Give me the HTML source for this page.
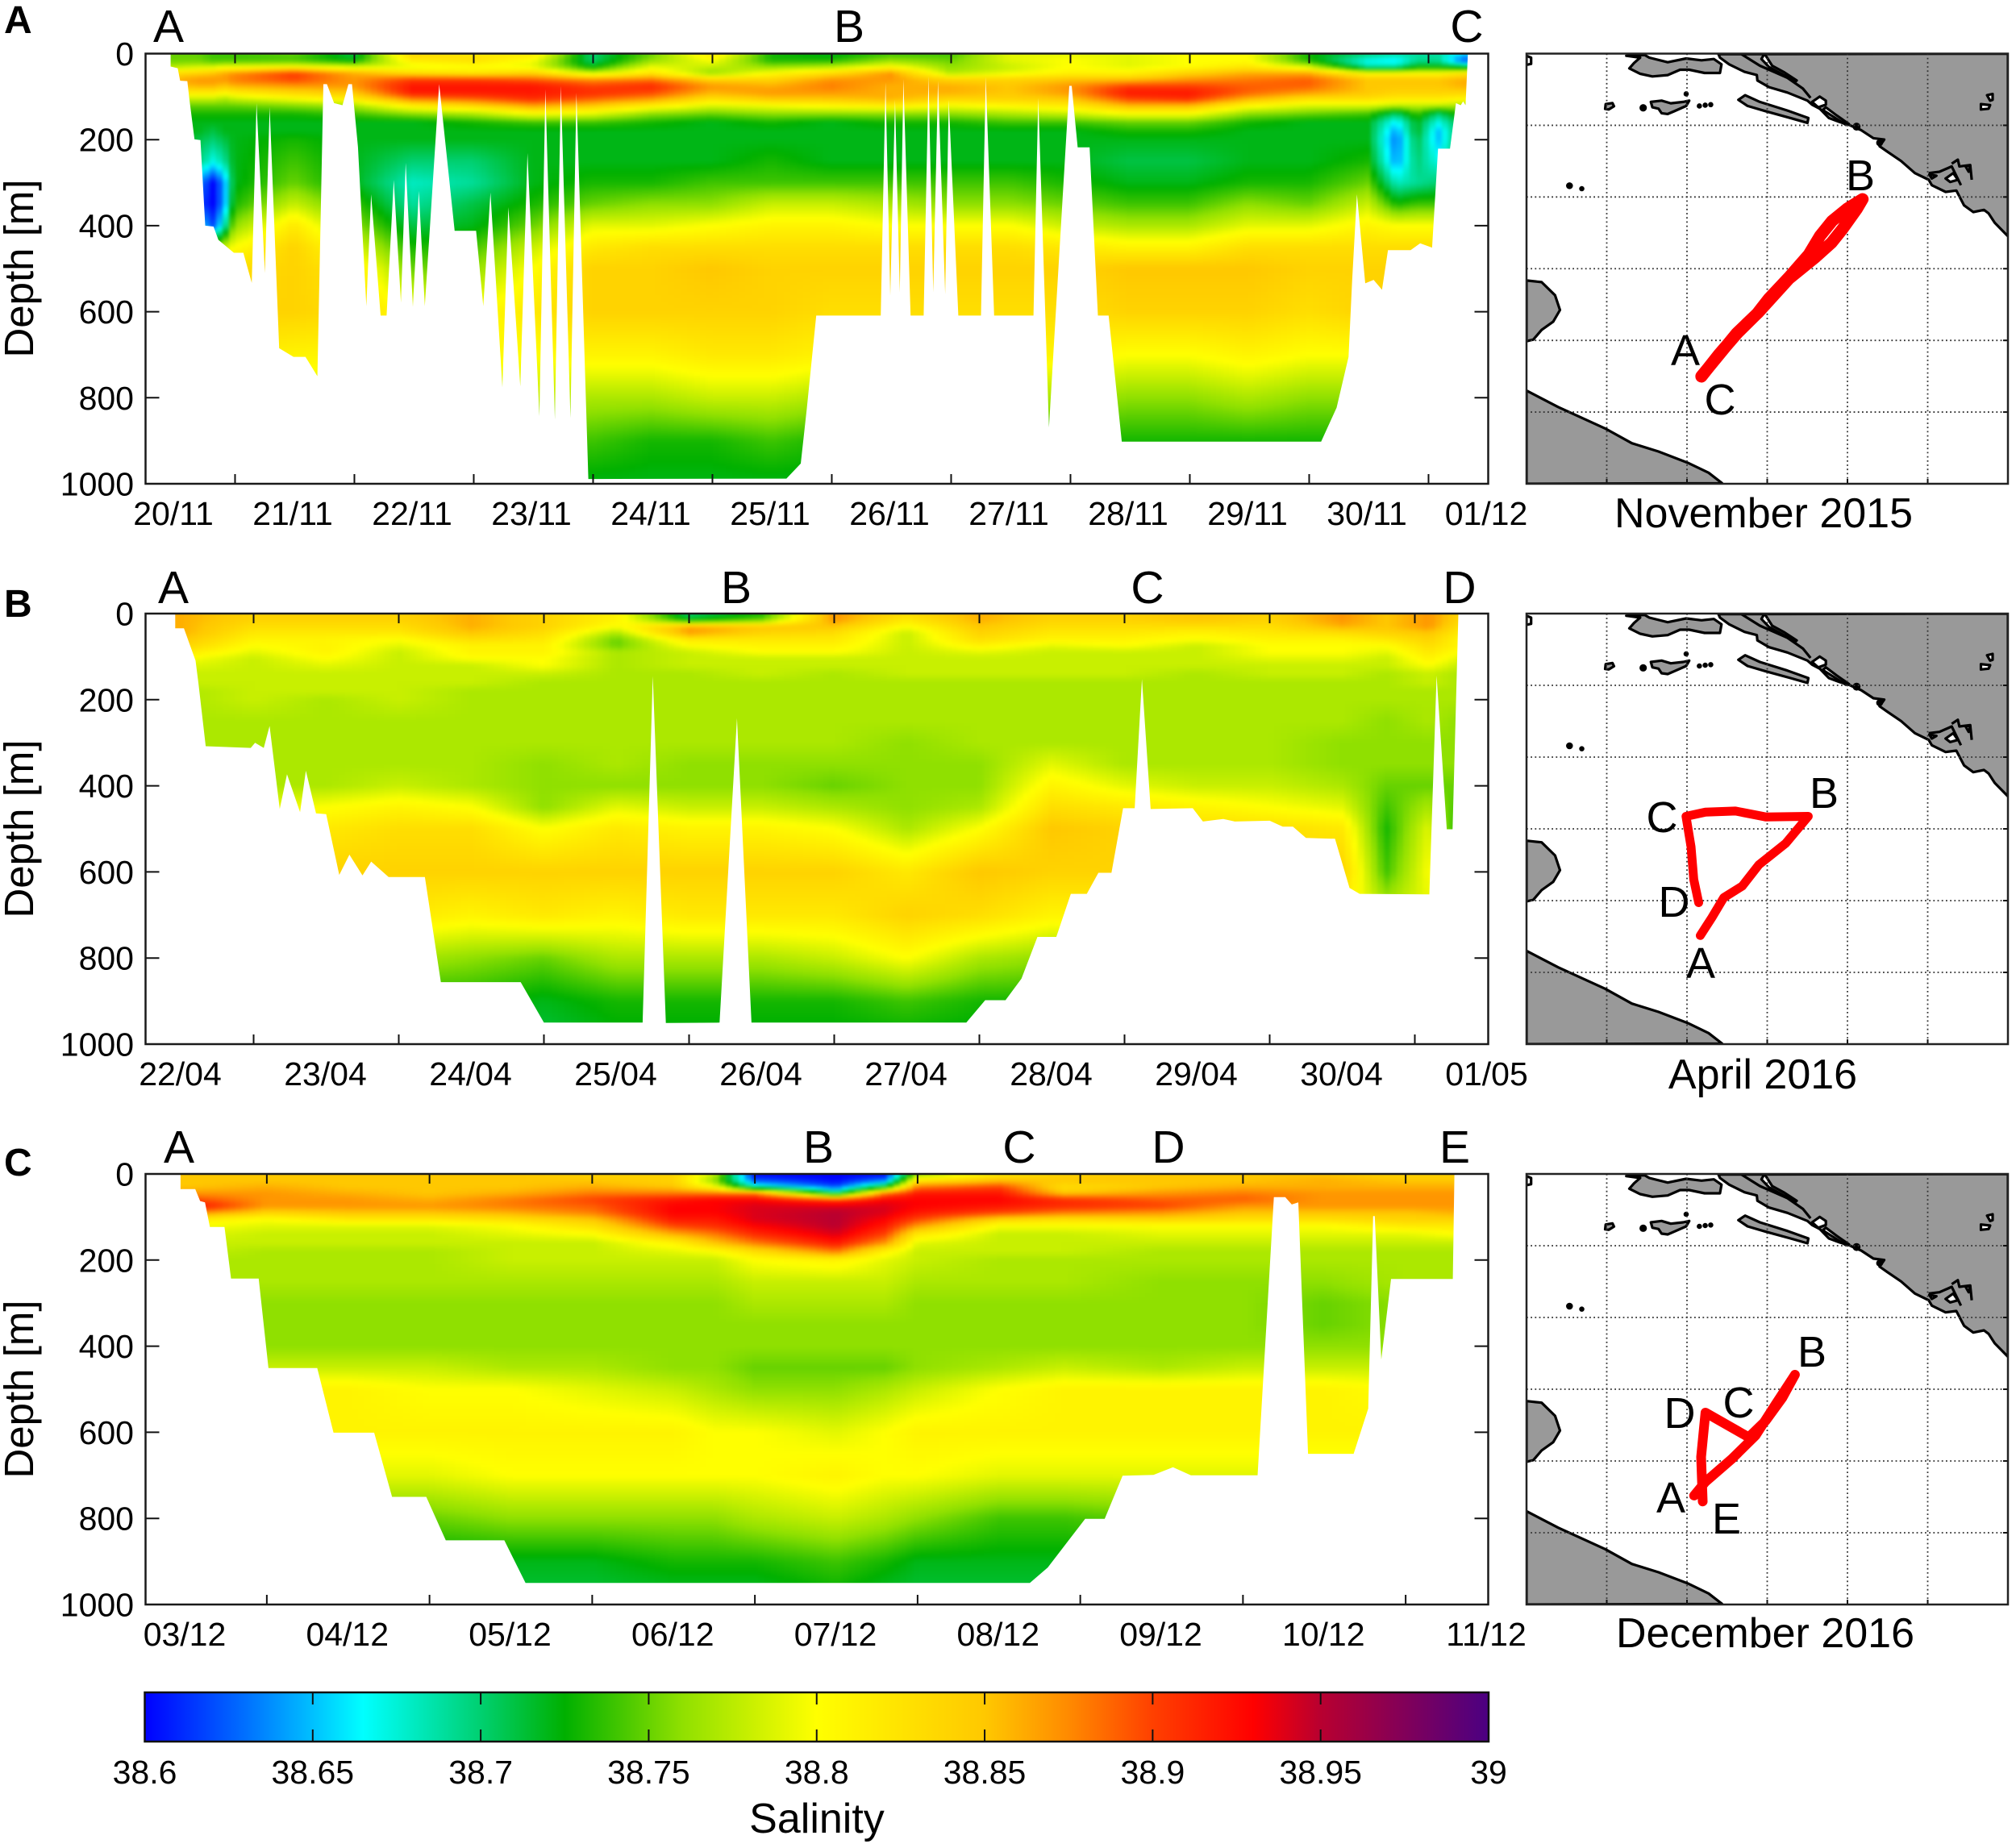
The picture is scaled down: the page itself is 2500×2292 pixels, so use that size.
<!DOCTYPE html>
<html lang="en">
<head>
<meta charset="utf-8">
<title>Salinity sections</title>
<style>
html,body{margin:0;padding:0;background:#fff;}
svg{display:block;}
text{font-family:"Liberation Sans",Arial,sans-serif;fill:#000;}
.tick{font-size:41px;}
.site{font-size:57px;text-anchor:middle;}
.msite{font-size:54px;text-anchor:middle;}
.tag{font-size:48px;font-weight:bold;}
.ylab{font-size:51px;text-anchor:middle;}
.mtitle{font-size:52px;text-anchor:middle;}
</style>
</head>
<body>
<svg id="fig" xmlns="http://www.w3.org/2000/svg" width="2500" height="2292" viewBox="0 0 2500 2292">
  <rect x="0" y="0" width="2500" height="2292" fill="#fff"/>
  <defs>
    <filter id="soft" color-interpolation-filters="sRGB"><feGaussianBlur stdDeviation="2"/></filter>
    <linearGradient id="cbar-gradient" x1="0" x2="1" y1="0" y2="0"></linearGradient>
  </defs>

  <text class="tag" x="5" y="41">A</text>
  <text class="tag" x="5" y="765">B</text>
  <text class="tag" x="5" y="1458">C</text>

  <text class="ylab" transform="translate(41 333) rotate(-90)">Depth [m]</text>
  <text class="ylab" transform="translate(41 1028) rotate(-90)">Depth [m]</text>
  <text class="ylab" transform="translate(41 1723) rotate(-90)">Depth [m]</text>

  <g id="plot-a"></g>
  <g id="plot-b"></g>
  <g id="plot-c"></g>

  <text class="site" x="209" y="52">A</text>
  <text class="site" x="1053" y="52">B</text>
  <text class="site" x="1819" y="52">C</text>

  <text class="site" x="215" y="748">A</text>
  <text class="site" x="913" y="748">B</text>
  <text class="site" x="1423" y="748">C</text>
  <text class="site" x="1810" y="748">D</text>

  <text class="site" x="222" y="1442">A</text>
  <text class="site" x="1015" y="1442">B</text>
  <text class="site" x="1264" y="1442">C</text>
  <text class="site" x="1449" y="1442">D</text>
  <text class="site" x="1804" y="1442">E</text>

  <g id="map-a"></g>
  <g id="map-b"></g>
  <g id="map-c"></g>

  <text class="msite" x="2090" y="453">A</text>
  <text class="msite" x="2307" y="236">B</text>
  <text class="msite" x="2133" y="514">C</text>

  <text class="msite" x="2109" y="1213">A</text>
  <text class="msite" x="2262" y="1002">B</text>
  <text class="msite" x="2061" y="1032">C</text>
  <text class="msite" x="2076" y="1137">D</text>

  <text class="msite" x="2072" y="1876">A</text>
  <text class="msite" x="2247" y="1695">B</text>
  <text class="msite" x="2156" y="1758">C</text>
  <text class="msite" x="2083" y="1771">D</text>
  <text class="msite" x="2141" y="1902">E</text>

  <text class="mtitle" x="2187" y="654">November 2015</text>
  <text class="mtitle" x="2186" y="1350">April 2016</text>
  <text class="mtitle" x="2189" y="2043">December 2016</text>

  <g id="colorbar"></g>
  <text class="ylab" x="1013" y="2273" style="font-size:52px">Salinity</text>
</svg>

<script>
// ---------- shared axes data ----------
const depthRows = [0,15,30,45,60,75,90,105,120,140,160,180,200,250,300,350,400,450,500,600,700,800,900,1000];
const depthTicks = [0,200,400,600,800,1000];
const salinityBase = 38; // grids below hold (salinity - 38) * 100

// ---------- panel A: November 2015 ----------
const dateLabelsA = ['20/11','21/11','22/11','23/11','24/11','25/11','26/11','27/11','28/11','29/11','30/11','01/12'];
const timesA = [0,.2,.33,.42,.5,1,1.5,2,2.5,3,3.5,4,4.5,5,5.5,6,6.5,7,7.5,8,8.5,9,9.5,10,10.24,10.41,10.59,10.8];
const salinityA = [
[75,75,77,83,86,85,82,78,75,73,72,72,72,72,73,74,76,79,82,84,82,79,75,72],
[75,75,78,84,87,86,82,78,75,73,72,72,71,70,64,62,66,76,81,84,82,79,75,72],
[74,74,78,85,87,86,82,78,75,73,72,71,70,67,60,60,62,76,83,84,82,79,75,72],
[74,74,79,86,87,85,81,77,75,73,72,72,71,69,64,64,68,78,83,84,82,79,75,72],
[74,74,79,87,88,86,82,78,75,73,72,72,72,72,72,73,76,80,83,84,82,79,75,72],
[75,74,80,90,90,87,84,80,76,73,72,72,73,74,75,78,82,84,84,84,81,78,74,72],
[71,72,78,86,87,87,85,82,77,74,72,72,72,72,72,74,76,79,82,83,81,78,74,72],
[84,82,79,83,90,92,92,88,82,76,72,72,72,70,68,69,71,73,75,80,81,78,74,72],
[82,83,80,82,90,92,92,89,84,77,73,72,72,70,69,71,72,74,76,80,81,78,74,72],
[82,80,79,84,89,92,92,91,87,80,74,72,72,72,72,73,75,78,80,82,80,78,74,72],
[70,70,72,78,87,90,91,89,85,79,74,72,72,72,73,75,79,82,84,84,81,77,74,72],
[75,76,79,82,88,91,90,87,82,76,73,72,72,72,73,76,79,83,84,84,81,77,73,72],
[82,80,78,76,84,87,86,83,79,75,72,72,72,72,74,76,80,83,85,84,82,78,73,72],
[73,73,76,80,84,86,87,85,80,76,73,72,72,73,74,78,81,83,84,84,82,78,74,72],
[72,73,77,83,87,88,87,85,81,76,72,72,72,72,74,78,81,83,84,83,81,77,73,72],
[74,76,80,87,87,86,86,86,82,76,73,72,72,72,74,77,80,83,84,83,81,77,73,72],
[74,75,76,77,84,86,86,84,80,76,73,72,72,72,74,76,80,83,84,83,81,77,73,72],
[79,79,78,79,84,85,85,84,81,77,74,72,72,72,74,76,80,83,84,83,81,77,73,72],
[79,80,80,81,85,87,87,85,82,78,74,72,72,72,73,75,78,82,84,83,81,77,73,72],
[79,79,79,81,85,90,92,90,86,80,75,73,72,71,72,74,77,81,85,84,80,76,73,72],
[80,80,80,84,87,90,92,91,86,80,75,73,72,71,72,74,77,81,85,84,80,76,73,72],
[80,80,82,86,88,89,89,86,81,76,73,72,72,72,73,76,79,83,85,84,81,77,73,72],
[73,73,78,86,89,89,87,83,79,75,72,72,72,72,73,75,79,83,84,83,80,76,73,72],
[70,67,68,80,85,85,85,83,79,74,72,72,72,73,75,78,81,83,84,84,80,76,73,72],
[69,66,68,80,85,85,84,82,78,70,66,64,63,64,68,73,80,83,84,84,80,76,73,72],
[69,69,72,80,85,85,84,82,78,74,72,72,71,70,69,74,80,83,84,84,80,76,73,72],
[69,69,72,80,85,85,84,82,78,70,67,65,65,67,70,74,80,83,84,84,80,76,73,72],
[66,62,70,82,86,86,84,81,77,74,72,72,72,72,73,76,80,83,84,84,80,76,73,72]
];
const edgeDaysA = [-.03,-.03,.03,.05,.11,.13,.17,.22,.26,.33,.37,.5,.58,.65,.69,.76,.8,.88,1,1.1,1.2,1.25,1.28,1.34,1.41,1.46,1.49,1.54,1.61,1.65,1.73,1.78,1.84,1.9,1.94,2,2.05,2.1,2.22,2.35,2.53,2.59,2.65,2.75,2.8,2.9,2.96,3.06,3.11,3.19,3.24,3.32,3.37,3.47,5.13,5.25,5.3,5.38,5.92,5.96,6,6.04,6.08,6.11,6.17,6.28,6.32,6.36,6.4,6.46,6.49,6.57,6.76,6.8,6.87,7.2,7.24,7.33,7.5,7.52,7.57,7.67,7.74,7.83,7.94,9.61,9.74,9.84,9.87,9.91,9.98,10.05,10.12,10.17,10.36,10.44,10.54,10.59,10.69,10.74,10.78,10.8,10.82,10.84];
const edgeDepthsA = [0,30,34,63,64,111,199,201,400,402,433,463,463,533,115,510,124,685,705,705,750,71,71,115,120,71,71,217,587,327,609,609,294,579,254,589,319,587,71,412,412,587,323,776,357,774,231,843,83,851,75,847,91,989,988,953,827,609,609,67,563,107,555,59,609,609,53,555,63,559,107,609,609,54,609,609,103,869,75,75,218,218,609,609,902,902,823,705,526,327,534,526,549,457,457,441,451,221,221,115,120,111,120,0];

// ---------- panel B: April 2016 ----------
const dateLabelsB = ['22/04','23/04','24/04','25/04','26/04','27/04','28/04','29/04','30/04','01/05'];
const timesB = [0,.5,1,1.5,2,2.5,3,3.5,4,4.5,5,5.5,6,6.5,7,7.5,8,8.3,8.6,8.8];
const salinityB = [
[86,86,86,86,85,84,82,80,79,78,78,77,77,77,77,77,77,79,81,84,82,77,73,72],
[84,84,83,82,81,80,79,78,78,78,78,78,78,77,77,77,77,79,82,84,82,77,73,72],
[84,84,83,82,81,81,81,80,79,78,78,78,77,77,77,77,77,80,82,84,82,77,73,72],
[84,84,83,82,80,79,78,78,78,78,78,78,78,77,77,77,78,81,83,84,82,77,73,72],
[86,86,86,85,83,81,81,80,78,78,78,77,77,77,77,77,77,80,83,84,81,76,73,72],
[84,84,84,83,82,81,81,80,80,78,77,77,77,77,77,76,76,76,80,84,82,75,72,71],
[81,81,80,77,75,75,77,77,77,77,77,77,77,77,77,77,76,79,82,84,81,77,73,72],
[70,72,86,87,82,80,78,78,78,77,77,77,77,77,77,76,76,78,81,84,82,77,73,72],
[73,75,85,84,82,81,80,78,78,78,77,77,77,77,77,76,76,78,81,84,82,77,73,72],
[87,87,85,83,82,81,80,78,78,77,77,77,77,77,77,76,75,77,80,84,82,78,73,72],
[83,82,80,78,78,78,78,78,78,78,77,77,77,77,76,76,76,76,77,82,84,80,74,72],
[86,86,85,84,83,81,79,78,78,78,77,77,77,77,77,76,76,77,80,85,83,77,73,72],
[84,84,83,82,81,79,78,78,78,78,77,77,77,77,77,79,81,83,85,84,81,76,73,72],
[84,84,83,82,81,80,78,78,78,78,77,77,77,77,77,77,79,82,84,84,81,77,73,72],
[85,85,83,81,80,78,78,78,78,77,77,77,77,77,77,77,78,81,83,84,81,77,73,72],
[84,84,83,82,81,80,80,79,78,78,77,77,77,77,77,77,78,80,83,84,81,77,73,72],
[87,87,86,83,81,80,80,79,78,78,77,77,77,77,76,76,77,79,82,84,81,77,73,72],
[85,85,85,84,82,80,79,78,78,77,77,77,77,76,76,76,75,74,73,74,78,76,73,72],
[87,87,87,85,84,83,82,81,80,78,78,77,77,77,76,76,75,77,79,80,79,76,73,72],
[84,84,83,82,81,81,80,79,78,77,77,77,77,76,76,76,75,74,73,79,79,76,73,72]
];
const edgeDaysB = [-.04,-.04,.02,.06,.1,.12,.17,.48,.51,.57,.61,.68,.73,.82,.86,.93,1,1.09,1.16,1.25,1.31,1.43,1.68,1.79,2.34,2.5,3.18,3.25,3.34,3.71,3.83,3.93,5.41,5.54,5.68,5.79,5.9,6.03,6.13,6.24,6.32,6.41,6.49,6.57,6.62,6.68,6.97,7.04,7.18,7.26,7.5,7.59,7.66,7.75,7.95,8.05,8.12,8.6,8.65,8.72,8.76,8.8];
const edgeDepthsB = [0,34,34,72,109,162,308,312,300,312,261,454,373,461,365,464,466,607,560,608,576,612,612,856,856,950,950,145,951,950,243,950,950,898,898,848,751,751,651,651,602,602,452,452,152,454,452,483,477,483,481,495,495,521,523,637,651,652,144,501,501,0];

// ---------- panel C: December 2016 ----------
const dateLabelsC = ['03/12','04/12','05/12','06/12','07/12','08/12','09/12','10/12','11/12'];
const timesC = [0,.5,1,1.5,2,2.5,3,3.25,3.5,4,4.3,4.5,5,5.4,6,6.5,7,7.5,7.8];
const salinityC = [
[85,85,85,87,90,93,88,82,80,79,78,78,77,77,76,76,76,78,80,81,79,76,72,71],
[85,85,86,87,87,87,84,80,79,78,78,77,77,77,76,76,76,78,81,81,79,75,72,71],
[85,85,85,86,87,87,85,82,79,78,78,77,77,77,76,76,76,78,81,81,79,75,72,71],
[85,85,85,85,86,87,85,82,79,78,78,77,77,77,76,76,76,78,80,81,79,75,72,71],
[85,85,85,86,88,88,86,83,80,79,78,78,78,77,76,76,76,77,80,81,80,76,72,71],
[84,85,86,88,90,89,88,85,83,80,78,78,78,77,76,76,76,77,79,81,80,76,72,71],
[84,84,85,88,92,93,93,92,90,86,81,79,78,77,76,76,76,76,78,81,80,76,73,71],
[78,76,80,88,93,93,93,92,91,88,85,80,78,77,76,76,76,76,77,80,80,76,73,71],
[60,62,68,88,93,94,94,94,93,91,88,83,80,78,77,76,76,75,76,80,80,77,73,71],
[60,60,62,70,90,94,95,95,95,94,92,88,81,78,77,76,76,75,76,79,81,78,74,72],
[60,63,72,88,93,94,94,93,92,90,87,81,79,78,77,76,76,75,77,80,80,77,73,71],
[76,82,88,92,93,93,92,90,87,82,79,78,78,77,76,76,76,76,78,81,80,76,72,71],
[82,85,90,92,93,92,90,84,80,78,78,78,77,77,76,76,76,77,80,81,79,74,72,71],
[84,85,83,85,91,91,88,83,80,78,78,78,77,77,76,76,76,78,81,81,79,74,72,71],
[85,85,85,87,89,90,87,84,80,79,78,77,77,76,76,76,76,77,81,81,79,75,72,71],
[85,85,86,88,89,87,85,83,80,79,78,77,77,76,76,76,76,78,81,81,79,75,72,71],
[85,86,86,87,87,87,85,83,80,79,78,77,77,76,75,75,76,78,81,81,79,75,72,71],
[84,85,86,87,87,87,85,84,82,79,78,77,77,77,76,76,76,78,80,81,79,75,72,71],
[84,85,86,87,87,87,86,84,82,80,78,77,77,77,76,76,76,78,80,81,79,75,72,71]
];
const edgeDaysC = [-.03,-.03,.06,.09,.12,.15,.24,.28,.45,.51,.81,.91,1.16,1.27,1.48,1.6,1.96,2.09,5.19,5.3,5.53,5.65,5.76,5.95,6.07,6.18,6.59,6.69,6.76,6.8,6.84,6.9,7.18,7.27,7.3,7.31,7.35,7.41,7.79,7.8];
const edgeDepthsC = [0,35,35,63,66,123,123,243,243,451,451,601,601,750,750,851,851,950,950,914,801,801,701,699,681,700,700,54,54,71,66,650,650,545,98,98,431,244,244,0];

// ---------- colour scale ----------
const colorbarTicks = [38.6,38.65,38.7,38.75,38.8,38.85,38.9,38.95,39];
const paletteValues = [38.6,38.63,38.65,38.665,38.7,38.725,38.76,38.8,38.85,38.875,38.9,38.93,38.95,39];
const paletteColors = ['#0000ff','#0070ff','#00c0ff','#00ffff','#00d070','#00b000','#90e000','#ffff00','#ffc800','#ff8a00','#ff4000','#ff0000','#b80030','#4b0082'];

// ---------- map tracks (lon / lat) ----------
const trackLonA = [17.59,17.698,17.813,17.938,18.01,18.135,18.26,18.33,18.405,18.5,18.594,18.56,18.47,18.40,18.30,18.135,17.94,17.81,17.59];
const trackLatA = [40.748,40.901,41.05,41.188,41.291,41.44,41.6,41.73,41.834,41.92,41.985,41.92,41.778,41.68,41.58,41.43,41.19,41.05,40.75];
const trackLonB = [17.583,17.656,17.729,17.844,17.948,18.115,18.256,17.99,17.802,17.615,17.494,17.525,17.542,17.573];
const trackLatB = [40.757,40.883,41.021,41.101,41.25,41.399,41.587,41.583,41.624,41.617,41.587,41.376,41.147,40.986];
const trackLonC = [17.544,17.615,17.781,17.927,18.052,18.173,18.094,17.99,17.885,17.615,17.588,17.598];
const trackLatC = [40.759,40.855,41.016,41.177,41.394,41.601,41.44,41.28,41.165,41.337,41.028,40.718];
const mapGridLon = [17,17.5,18,18.5,19];
const mapGridLat = [42.5,42,41.5,41,40.5];

// ---------- coast outlines in map-grid units ----------
const coastMainland = [[625,2],[630,15],[660,40],[710,68],[750,80],[752,100],[790,125],[850,145],[915,175],[930,190],[955,205],[985,240],[1020,255],[1050,265],[1075,278],[1090,285],[1130,315],[1165,320],[1150,345],[1175,365],[1220,400],[1265,445],[1310,470],[1320,490],[1365,515],[1400,510],[1425,565],[1455,590],[1490,582],[1505,595],[1525,630],[1568,680],[1568,0]];
const coastIslandNorth = [[325,8],[370,15],[350,35],[335,55],[370,75],[410,85],[460,80],[500,60],[530,60],[580,72],[630,72],[635,40],[610,20],[570,25],[520,18],[460,32],[400,15],[385,5]];
const coastIslandMid = [[405,180],[440,175],[470,185],[510,180],[530,175],[520,195],[480,215],[460,225],[440,222],[430,205],[410,200]];
const coastIslandLong = [[690,172],[712,155],[760,180],[850,212],[918,240],[915,258],[860,240],[780,215],[720,195]];
const coastIslandSmall = [[258,188],[280,184],[285,196],[268,208],[256,206]];
const coastGargano = [[0,845],[49,851],[93,900],[109,955],[87,998],[49,1029],[22,1065],[0,1071]];
const coastApulia = [[0,1255],[103,1316],[256,1396],[343,1451],[430,1482],[528,1525],[593,1561],[637,1600],[0,1602]];
const waterSliver = [[775,0],[800,45],[840,70],[880,100],[875,105],[835,78],[790,50],[765,20]];
const waterIsle = [[930,180],[955,160],[975,175],[975,190],[950,200]];
const waterChannel = [[975,200],[1010,230],[1050,262],[1040,265],[1000,235],[965,210]];
const waterBayOne = [[1312,450],[1335,455],[1320,465]];
const waterBayTwo = [[1365,465],[1390,445],[1405,470],[1380,478]];
const waterBayThree = [[1430,420],[1445,418],[1440,440]];
const waterInlandOne = [[1500,155],[1518,150],[1518,172],[1510,175]];
const waterInlandTwo = [[1480,188],[1510,192],[1505,205],[1480,208]];
const waterCorner = [[0,8],[15,15],[15,38],[0,42]];
const coastInnerLine = [[700,2],[760,45],[800,65],[850,90],[900,130],[925,165]];
const bayLineOne = [[1385,410],[1405,395],[1410,420],[1445,415],[1450,470]];
const bayLineTwo = [[1310,445],[1345,440],[1385,420],[1415,490]];
const isletBlobs = [[380,202,9],[520,150,5],[563,195,5],[582,192,5],[600,190,5],[140,492,8],[180,503,5],[1075,272,10],[1150,332,8]];

// ---------- layout ----------
const panels = [
 {id:'a', top:66.5, bottom:600, x0:216, dayPx:148, tickStart:.51, labels:dateLabelsA, times:timesA, grid:salinityA, edgeDays:edgeDaysA, edgeDepths:edgeDepthsA},
 {id:'b', top:761, bottom:1295, x0:224.5, dayPx:180, tickStart:.5, labels:dateLabelsB, times:timesB, grid:salinityB, edgeDays:edgeDaysB, edgeDepths:edgeDepthsB},
 {id:'c', top:1456, bottom:1990, x0:230, dayPx:201.75, tickStart:.5, labels:dateLabelsC, times:timesC, grid:salinityC, edgeDays:edgeDaysC, edgeDepths:edgeDepthsC}
];
const plotLeft = 180.5, plotRight = 1845.5;
const maps = [
 {id:'a', top:66.5, bottom:600, lon:trackLonA, lat:trackLatA, width:15},
 {id:'b', top:761, bottom:1295, lon:trackLonB, lat:trackLatB, width:11},
 {id:'c', top:1456, bottom:1990, lon:trackLonC, lat:trackLatC, width:12}
];
const mapLeft = 1893, mapRight = 2490;

const NS = 'http://www.w3.org/2000/svg';
function make(tag, parent, attrs){
  const e = document.createElementNS(NS, tag);
  for (const k in attrs) e.setAttribute(k, attrs[k]);
  parent.appendChild(e);
  return e;
}
function hexToRgb(h){ return [parseInt(h.slice(1,3),16),parseInt(h.slice(3,5),16),parseInt(h.slice(5,7),16)]; }
const paletteRgb = paletteColors.map(hexToRgb);
function salinityColor(s){
  if (s <= paletteValues[0]) return paletteColors[0];
  for (let i = 1; i < paletteValues.length; i++){
    if (s <= paletteValues[i]){
      const f = (s - paletteValues[i-1]) / (paletteValues[i] - paletteValues[i-1]);
      const a = paletteRgb[i-1], b = paletteRgb[i];
      return 'rgb(' + Math.round(a[0]+(b[0]-a[0])*f) + ',' + Math.round(a[1]+(b[1]-a[1])*f) + ',' + Math.round(a[2]+(b[2]-a[2])*f) + ')';
    }
  }
  return paletteColors[paletteColors.length-1];
}
function bracket(arr, v){
  if (v <= arr[0]) return [0,0,0];
  const n = arr.length - 1;
  if (v >= arr[n]) return [n,n,0];
  let i = 0;
  while (arr[i+1] < v) i++;
  return [i,i+1,(v-arr[i])/(arr[i+1]-arr[i])];
}
function sampleSalinity(p, t, d){
  const bt = bracket(p.times, t), bd = bracket(depthRows, d);
  const c0 = p.grid[bt[0]], c1 = p.grid[bt[1]];
  const v0 = c0[bd[0]] + (c0[bd[1]] - c0[bd[0]]) * bd[2];
  const v1 = c1[bd[0]] + (c1[bd[1]] - c1[bd[0]]) * bd[2];
  return salinityBase + (v0 + (v1 - v0) * bt[2]) / 100;
}
function maxEdgeDepth(p, t0, t1){
  let m = -1;
  for (let i = 0; i < p.edgeDays.length; i++){
    const a = p.edgeDays[i], b = i + 1 < p.edgeDays.length ? p.edgeDays[i+1] : a;
    if (b >= t0 && a <= t1){
      m = Math.max(m, p.edgeDepths[i]);
      if (i + 1 < p.edgeDays.length) m = Math.max(m, p.edgeDepths[i+1]);
    }
  }
  return m;
}

panels.forEach(function(p){
  const g = document.getElementById('plot-' + p.id);
  const xAt = function(t){ return p.x0 + t * p.dayPx; };
  const yAt = function(d){ return p.top + d / 1000 * (p.bottom - p.top); };
  const dayAt = function(x){ return (x - p.x0) / p.dayPx; };
  const depthAt = function(y){ return (y - p.top) / (p.bottom - p.top) * 1000; };

  const bg = make('rect', g, {x:plotLeft, y:p.top, width:plotRight-plotLeft, height:p.bottom-p.top, fill:'#fff'});
  
  

  const clip = make('clipPath', g, {id:'data-clip-' + p.id});
  const pts = p.edgeDays.map(function(t,i){ return xAt(t).toFixed(1) + ',' + yAt(p.edgeDepths[i]).toFixed(1); }).join(' ');
  make('polygon', clip, {points:pts});

  const clipped = make('g', g, {'clip-path':'url(#data-clip-' + p.id + ')'});
  
  
  const soft = make('g', clipped, {filter:'url(#soft)', 'shape-rendering':'crispEdges'});
  
  

  const cw = 8, ch = 4;
  const startY = Math.floor(p.top) - 8;
  const endY = Math.ceil(p.bottom);
  for (let x = Math.floor(plotLeft); x < plotRight; x += cw){
    const limit = maxEdgeDepth(p, dayAt(x - 14), dayAt(x + cw + 14));
    if (limit < 0) continue;
    const t = dayAt(x + cw / 2);
    for (let y = startY; y < endY; y += ch){
      const d = depthAt(y + ch / 2);
      if (d > limit + 25) break;
      const cell = make('rect', soft, {x:x, y:y, width:cw, height:ch, fill:salinityColor(sampleSalinity(p, t, Math.max(0, d)))});
      
      
    }
  }

  // x ticks, both sides
  for (let k = 0; xAt(p.tickStart + k) < plotRight; k++){
    const tx = xAt(p.tickStart + k);
    const t1 = make('line', g, {x1:tx, x2:tx, y1:p.bottom, y2:p.bottom-12, stroke:'#111', 'stroke-width':2});
    
    
    const t2 = make('line', g, {x1:tx, x2:tx, y1:p.top, y2:p.top+12, stroke:'#111', 'stroke-width':2});
    
    
  }
  // date labels
  p.labels.forEach(function(lbl,i){
    const tx = make('text', g, {class:'tick', x:xAt(i) - 1, y:p.bottom+51, 'text-anchor':'middle'});
    tx.textContent = lbl;
    
    
  });
  // y ticks and labels
  depthTicks.forEach(function(d){
    const y = yAt(d);
    const l = make('line', g, {x1:plotLeft, x2:plotLeft+17, y1:y, y2:y, stroke:'#111', 'stroke-width':2});
    
    
    const r = make('line', g, {x1:plotRight, x2:plotRight-17, y1:y, y2:y, stroke:'#111', 'stroke-width':2});
    
    
    const t = make('text', g, {class:'tick', x:166, y:y+14.5, 'text-anchor':'end'});
    t.textContent = String(d);
    
    
  });
  const frame = make('rect', g, {x:plotLeft, y:p.top, width:plotRight-plotLeft, height:p.bottom-p.top, fill:'none', stroke:'#1a1a1a', 'stroke-width':2.5});
  
  
});

// ---------- maps ----------
maps.forEach(function(m){
  const g = document.getElementById('map-' + m.id);
  const h = m.bottom - m.top, w = mapRight - mapLeft;
  const lonX = function(lon){ return mapLeft + (lon - 16.5) / 3 * w; };
  const latY = function(lat){ return m.top + (43 - lat) / 3 * h; };
  const uX = function(u){ return mapLeft + u / 1568 * w; };
  const vY = function(v){ return m.top + v / 1602 * h; };
  const ptsOf = function(a){ return a.map(function(q){ return uX(q[0]).toFixed(1) + ',' + vY(q[1]).toFixed(1); }).join(' '); };

  const bg = make('rect', g, {x:mapLeft, y:m.top, width:w, height:h, fill:'#fff'});
  
  

  const clip = make('clipPath', g, {id:'map-clip-' + m.id});
  make('rect', clip, {x:mapLeft, y:m.top, width:w, height:h});
  const land = make('g', g, {'clip-path':'url(#map-clip-' + m.id + ')', 'stroke':'#000', 'stroke-width':3.2, 'stroke-linejoin':'round'});
  
  

  [coastMainland, coastIslandNorth, coastIslandMid, coastIslandLong, coastIslandSmall, coastGargano, coastApulia].forEach(function(c){
    const s = make('polygon', land, {points:ptsOf(c), fill:'#999'});
    
    
  });
  [waterSliver, waterIsle, waterChannel, waterBayOne, waterBayTwo, waterBayThree, waterInlandOne, waterInlandTwo, waterCorner].forEach(function(c){
    const s = make('polygon', land, {points:ptsOf(c), fill:'#fff'});
    
    
  });
  [coastInnerLine, bayLineOne, bayLineTwo].forEach(function(c){
    const s = make('polyline', land, {points:ptsOf(c), fill:'none'});
    
    
  });
  isletBlobs.forEach(function(q){
    const s = make('circle', land, {cx:uX(q[0]), cy:vY(q[1]), r:q[2] / 3, fill:'#000'});
    
    
  });

  mapGridLon.forEach(function(lon){
    const x = lonX(lon);
    const l = make('line', g, {x1:x, x2:x, y1:m.top, y2:m.bottom, stroke:'#333', 'stroke-width':1.8, 'stroke-dasharray':'1.8 3.4'});
    
    
    const t = make('line', g, {x1:x, x2:x, y1:m.bottom, y2:m.bottom-6, stroke:'#111', 'stroke-width':2});
    
    
  });
  mapGridLat.forEach(function(lat){
    const y = latY(lat);
    const l = make('line', g, {x1:mapLeft, x2:mapRight, y1:y, y2:y, stroke:'#333', 'stroke-width':1.8, 'stroke-dasharray':'1.8 3.4'});
    
    
    const t = make('line', g, {x1:mapRight, x2:mapRight-6, y1:y, y2:y, stroke:'#111', 'stroke-width':2});
    
    
  });

  const track = make('polyline', g, {points:m.lon.map(function(lon,i){ return lonX(lon).toFixed(1) + ',' + latY(m.lat[i]).toFixed(1); }).join(' '), fill:'none', stroke:'#f00', 'stroke-width':m.width, 'stroke-linecap':'round', 'stroke-linejoin':'round'});
  
  

  const frame = make('rect', g, {x:mapLeft, y:m.top, width:w, height:h, fill:'none', stroke:'#222', 'stroke-width':2.5});
  
  
});

// ---------- colour bar ----------
(function(){
  const g = document.getElementById('colorbar');
  const left = 179.5, right = 1846, top = 2099, bottom = 2160;
  const sx = function(s){ return left + (s - 38.6) / 0.4 * (right - left); };
  const grad = document.getElementById('cbar-gradient');
  paletteValues.forEach(function(v,i){
    make('stop', grad, {offset:((v - 38.6) / 0.4).toFixed(4), 'stop-color':paletteColors[i]});
  });
  const bar = make('rect', g, {x:left, y:top, width:right-left, height:bottom-top, fill:'url(#cbar-gradient)'});
  
  
  colorbarTicks.forEach(function(v){
    const x = sx(v);
    const a = make('line', g, {x1:x, x2:x, y1:top, y2:top+15, stroke:'#111', 'stroke-width':2});
    
    
    const b = make('line', g, {x1:x, x2:x, y1:bottom, y2:bottom-15, stroke:'#111', 'stroke-width':2});
    
    
    const t = make('text', g, {class:'tick', x:x, y:2212, 'text-anchor':'middle'});
    t.textContent = String(v);
    
    
  });
  const frame = make('rect', g, {x:left, y:top, width:right-left, height:bottom-top, fill:'none', stroke:'#111', 'stroke-width':2.5});
  
  
})();
</script>
</body>
</html>
